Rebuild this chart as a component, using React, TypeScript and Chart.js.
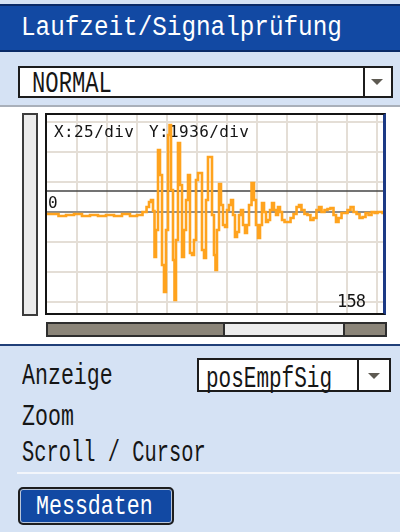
import React, { useEffect, useRef } from 'react';
import { Chart, registerables } from 'chart.js';

Chart.register(...registerables);

const TITLE = 'Laufzeit/Signalprüfung';
const MODE = 'NORMAL';
const X_LABEL = 'X:25/div';
const Y_LABEL = 'Y:1936/div';
const ZERO_LABEL = '0';
const CURSOR_LABEL = '158';
const ROW_LABELS = ['Anzeige', 'Zoom', 'Scroll / Cursor'];
const DISPLAY_MODE = 'posEmpfSig';
const BUTTON_LABEL = 'Messdaten';

const X_MIN = 0;
const X_MAX = 280;
const Y_MIN = -6486;
const Y_MAX = 6292;
const THRESHOLD = 1388;

const xGridTicks = [25, 50, 75, 100, 125, 150, 175, 200, 225, 250, 275];
const yGridTicks = [-5808, -3872, -1936, 0, 1936, 3872, 5808];

const times = [
  0, 6.7, 12.5, 19.2, 25.8, 32.5, 39.2, 45.8, 52.5, 59.2, 65.8, 72.5, 77.5, 81.7, 84.2, 85.8,
  87.5, 89.2, 90, 91.7, 93.3, 95, 96.7, 98.3, 100, 101.7, 102.5, 104.2, 105.8, 106.7, 108.3, 110,
  111.7, 113.3, 115, 116.7, 118.3, 120, 121.7, 123.3, 125, 126.7, 128.3, 130, 131.7, 133.3, 135,
  136.7, 138.3, 140, 140.8, 142.5, 144.2, 145.8, 147.5, 149.2, 150.8, 152.5, 154.2, 155.8, 157.5,
  159.2, 160.8, 162.5, 164.2, 165.8, 167.5, 169.2, 171.7, 173.3, 175, 176.7, 178.3, 180, 181.7,
  183.3, 185, 186.7, 188.3, 190, 191.7, 193.3, 195, 196.7, 199.2, 201.7, 204.2, 206.7, 209.2,
  210.8, 213.3, 215.8, 218.3, 220.8, 223.3, 225.8, 227.5, 230, 232.5, 235, 237.5, 240, 241.7,
  244.2, 246.7, 249.2, 251.7, 254.2, 256.7, 259.2, 261.7, 264.2, 266.7, 269.2, 271.7, 274.2,
  276.7, 279.2, 280,
];

const amplitudes = [
  -97, -97, -226, -161, -97, -226, -161, -226, -161, -226, -97, -226, -161, 32, 355, 678,
  807, 97, -2872, -1129, 4033, 2420, -3388, -5130, -1129, 5001, 5646, 1452, -3065, -5646, -1775, 4485,
  1775, -2872, -1129, 807, 2420, -2613, -2743, -1775, 2097, 2549, 2549, -2420, -2936, 807, 3581,
  3581, -161, -2743, -3710, -1129, 1839, 484, -807, -936, 161, 484, 807, -161, -1581,
  -1258, -161, 161, -807, -1323, -807, 484, 1904, 807, -807, -1646, -807, 613, 32,
  -613, -484, 161, 613, 161, -161, 355, 32, -484, -613, -613, -355, -97, 355,
  484, 161, -97, -161, -484, -355, 161, 355, 32, 161, 226, 290, -161, -613,
  -355, -32, -32, 161, 355, 32, -97, -355, -290, -32, -161, 32, -32,
  32, 32, -32,
];

const MONO = '"DejaVu Sans Mono", monospace';
const THIN = '"Liberation Mono", monospace';

function Label(props: { x: number; capTop: number; text: string; size: number; sx?: number; color?: string }) {
  const { x, capTop, text, size, sx = 1, color = '#161616' } = props;
  return (
    <div
      style={{
        position: 'absolute',
        left: x,
        top: capTop - 0.107 * size,
        fontFamily: THIN,
        fontSize: size,
        lineHeight: `${size}px`,
        color,
        whiteSpace: 'pre',
        transform: `scaleX(${sx})`,
        transformOrigin: '0 0',
      }}
    >
      {text}
    </div>
  );
}

function Arrow(props: { x: number; y: number }) {
  return (
    <div
      style={{
        position: 'absolute',
        left: props.x,
        top: props.y,
        width: 0,
        height: 0,
        borderLeft: '6px solid transparent',
        borderRight: '6px solid transparent',
        borderTop: '6px solid #5e5a52',
      }}
    />
  );
}

const overlayText = {
  id: 'overlayText',
  beforeDatasetsDraw(chart: any) {
    const { ctx, chartArea, scales } = chart;
    ctx.save();
    ctx.fillStyle = '#151515';
    ctx.textBaseline = 'alphabetic';
    ctx.font = `16px ${MONO}`;
    try { (ctx as any).letterSpacing = '0.4px'; } catch (e) {}
    ctx.fillText(X_LABEL, chartArea.left + 7, chartArea.top + 22);
    ctx.fillText(Y_LABEL, chartArea.left + 102, chartArea.top + 22);
    try { (ctx as any).letterSpacing = '0px'; } catch (e) {}
    ctx.font = `16px ${MONO}`;
    ctx.fillText(ZERO_LABEL, chartArea.left + 1, scales.y.getPixelForValue(0) - 4);
    ctx.font = `17px ${MONO}`;
    try { (ctx as any).letterSpacing = '-0.8px'; } catch (e) {}
    ctx.fillText(CURSOR_LABEL, chartArea.left + 290, chartArea.bottom - 6);
    ctx.restore();
  },
};

function Scope() {
  const ref = useRef<HTMLCanvasElement>(null);
  useEffect(() => {
    if (!ref.current) return;
    const chart = new Chart(ref.current, {
      type: 'line',
      data: {
        datasets: [
          {
            data: times.map((t, i) => ({ x: t, y: amplitudes[i] })),
            borderColor: '#ffa31e',
            borderWidth: 2.6,
            pointRadius: 0,
            stepped: 'middle',
            tension: 0,
            borderJoinStyle: 'miter',
            fill: false,
          },
          {
            data: [
              { x: X_MIN, y: THRESHOLD },
              { x: X_MAX, y: THRESHOLD },
            ],
            borderColor: '#454545',
            borderWidth: 1.5,
            pointRadius: 0,
            fill: false,
          },
        ],
      } as any,
      options: {
        animation: false,
        responsive: false,
        events: [],
        layout: { padding: { left: 7, top: 7, right: 7, bottom: 7 } },
        plugins: { legend: { display: false }, tooltip: { enabled: false } },
        scales: {
          x: {
            type: 'linear',
            min: X_MIN,
            max: X_MAX,
            afterBuildTicks: (axis: any) => {
              axis.ticks = xGridTicks.map((v) => ({ value: v }));
            },
            ticks: { display: false },
            grid: { color: '#e4ded6', lineWidth: 2, drawTicks: false },
            border: { display: false },
          },
          y: {
            type: 'linear',
            min: Y_MIN,
            max: Y_MAX,
            afterBuildTicks: (axis: any) => {
              axis.ticks = yGridTicks.map((v) => ({ value: v }));
            },
            ticks: { display: false },
            grid: {
              color: (c: any) => (c.tick && c.tick.value === 0 ? '#8c8c8c' : '#e4ded6'),
              lineWidth: 2,
              drawTicks: false,
            },
            border: { display: false },
          },
        },
      } as any,
      plugins: [overlayText],
    });
    return () => chart.destroy();
  }, []);
  return (
    <canvas
      ref={ref}
      width={350}
      height={212}
      style={{ position: 'absolute', left: 40, top: 108, width: 350, height: 212 }}
    />
  );
}

export default function App() {
  return (
    <div
      style={{
        position: 'absolute',
        left: 0,
        top: 0,
        width: 400,
        height: 532,
        background: '#d5e2f4',
        overflow: 'hidden',
        fontFamily: THIN,
      }}
    >
      {/* title bar */}
      <div
        style={{
          position: 'absolute',
          left: 0,
          top: 4,
          width: 400,
          height: 44,
          background: '#1249a3',
          borderTop: '2px solid #0a2a66',
          borderBottom: '2px solid #0a2a66',
        }}
      />
      <Label x={21} capTop={18} text={TITLE} size={27} sx={0.9} color="#ffffff" />

      {/* mode dropdown */}
      <div
        style={{
          position: 'absolute',
          left: 18,
          top: 66,
          width: 371,
          height: 28,
          background: '#ffffff',
          border: '2px solid #1c1c1c',
        }}
      />
      <div style={{ position: 'absolute', left: 363, top: 68, width: 2, height: 28, background: '#1c1c1c' }} />
      <Label x={32} capTop={72} text={MODE} size={30} sx={0.74} />
      <Arrow x={371} y={79} />

      {/* separator + white panel */}
      <div style={{ position: 'absolute', left: 0, top: 105, width: 400, height: 2, background: '#a9b0ba' }} />
      <div style={{ position: 'absolute', left: 0, top: 107, width: 400, height: 237, background: '#ffffff' }} />
      <div style={{ position: 'absolute', left: 0, top: 344, width: 400, height: 2, background: '#203f78' }} />

      {/* vertical scrollbar */}
      <div
        style={{
          position: 'absolute',
          left: 22,
          top: 113,
          width: 12,
          height: 199,
          background: '#ececec',
          border: '2px solid #3c3c3c',
        }}
      />

      <Scope />

      {/* plot frame */}
      <div
        style={{
          position: 'absolute',
          left: 45,
          top: 113,
          width: 336,
          height: 198,
          border: '2px solid #141414',
          borderRight: '3px solid #1c3a85',
          pointerEvents: 'none',
        }}
      />

      {/* horizontal scrollbar */}
      <div
        style={{
          position: 'absolute',
          left: 46,
          top: 322,
          width: 337,
          height: 11,
          background: '#8b8579',
          border: '2px solid #2e2e2e',
        }}
      />
      <div
        style={{
          position: 'absolute',
          left: 223,
          top: 324,
          width: 118,
          height: 11,
          background: '#ececec',
          borderLeft: '2px solid #2e2e2e',
          borderRight: '2px solid #2e2e2e',
        }}
      />

      {/* lower panel */}
      <Label x={22} capTop={364} text={ROW_LABELS[0]} size={30} sx={0.72} />
      <Label x={22} capTop={405} text={ROW_LABELS[1]} size={30} sx={0.72} />
      <Label x={22} capTop={441} text={ROW_LABELS[2]} size={30} sx={0.68} />

      <div
        style={{
          position: 'absolute',
          left: 197,
          top: 358,
          width: 190,
          height: 30,
          background: '#ffffff',
          border: '2px solid #1c1c1c',
        }}
      />
      <div style={{ position: 'absolute', left: 357, top: 360, width: 2, height: 30, background: '#1c1c1c' }} />
      <Label x={206} capTop={367} text={DISPLAY_MODE} size={30} sx={0.7} />
      <Arrow x={368} y={373} />

      <div style={{ position: 'absolute', left: 17, top: 472, width: 383, height: 2, background: '#f3f6fb' }} />

      <div
        style={{
          position: 'absolute',
          left: 18,
          top: 487,
          width: 152,
          height: 34,
          background: '#1249a3',
          border: '2px solid #1e1e1e',
          borderRadius: 5,
          boxShadow: 'inset 0 0 0 1px #b9c6da',
        }}
      />
      <Label x={36} capTop={497} text={BUTTON_LABEL} size={27} sx={0.8} color="#ffffff" />
    </div>
  );
}
